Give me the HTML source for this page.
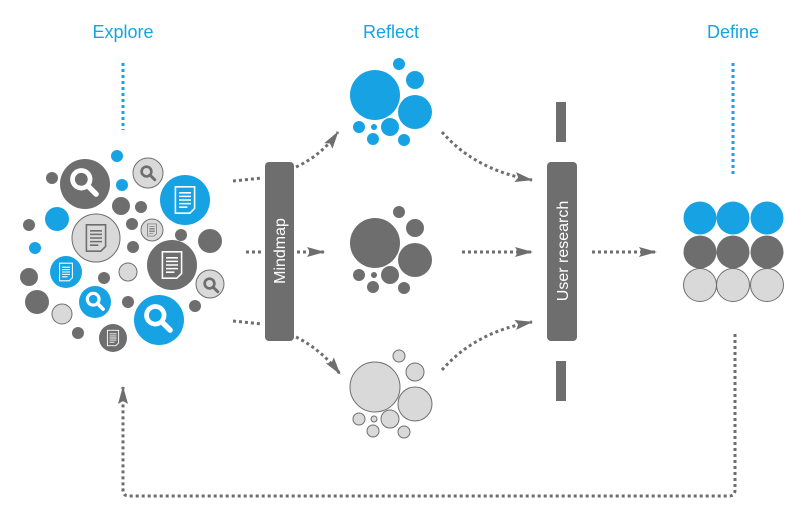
<!DOCTYPE html>
<html><head><meta charset="utf-8"><style>
html,body{margin:0;padding:0;background:#fff;}
svg{display:block;font-family:"Liberation Sans",sans-serif;}
</style></head><body>
<svg width="800" height="519" viewBox="0 0 800 519" xmlns="http://www.w3.org/2000/svg">
<defs>
<marker id="ah2" markerWidth="18" markerHeight="10" refX="17" refY="5" orient="auto" markerUnits="userSpaceOnUse" viewBox="0 0 18 10">
<polygon points="0,0 18,5 0,10 3,5" fill="#6e6e6e"/></marker>
<g id="srch"><circle cx="-2" cy="-2" r="6.5" fill="none" stroke="#fff" stroke-width="3.5"/><line x1="3" y1="3" x2="9" y2="9" stroke="#fff" stroke-width="4" stroke-linecap="round"/></g>
<g id="srchd"><circle cx="-2" cy="-2" r="6.5" fill="none" stroke="#6e6e6e" stroke-width="3.5"/><line x1="3" y1="3" x2="9" y2="9" stroke="#6e6e6e" stroke-width="4" stroke-linecap="round"/></g>
<g id="doc"><path d="M-8,-11 H8 V7 L4,11 H-8 Z" fill="none" stroke="#fff" stroke-width="1.3"/><path d="M-5,-6H5M-5,-3H5M-5,0H5M-5,3H5M-5,6H2" stroke="#fff" stroke-width="1.3"/></g>
<g id="docd"><path d="M-8,-11 H8 V7 L4,11 H-8 Z" fill="none" stroke="#6e6e6e" stroke-width="1.3"/><path d="M-5,-6H5M-5,-3H5M-5,0H5M-5,3H5M-5,6H2" stroke="#6e6e6e" stroke-width="1.3"/></g>
</defs>

<g fill="#17a3e3" font-size="18" text-anchor="middle">
<text x="123" y="38">Explore</text><text x="391" y="38">Reflect</text><text x="733" y="38">Define</text>
</g>
<g stroke="#17a3e3" stroke-width="3" stroke-dasharray="3 3" fill="none">
<line x1="123" y1="63" x2="123" y2="130"/><line x1="733" y1="63" x2="733" y2="174"/>
</g>

<g>
<circle cx="117" cy="156" r="6" fill="#17a3e3"/>
<circle cx="85" cy="184" r="25" fill="#6e6e6e"/><g transform="translate(84,182) scale(1.35)"><use href="#srch"/></g>
<circle cx="148" cy="173" r="15" fill="#d9d9d9" stroke="#6e6e6e" stroke-width="1"/><g transform="translate(148,173) scale(0.75)"><use href="#srchd"/></g>
<circle cx="52" cy="178" r="6" fill="#6e6e6e"/>
<circle cx="122" cy="185" r="6" fill="#17a3e3"/>
<circle cx="185" cy="200" r="25" fill="#17a3e3"/><g transform="translate(185,200) scale(1.2)"><use href="#doc"/></g>
<circle cx="121" cy="206" r="9" fill="#6e6e6e"/>
<circle cx="141" cy="207" r="6" fill="#6e6e6e"/>
<circle cx="57" cy="219" r="12" fill="#17a3e3"/>
<circle cx="29" cy="225" r="6" fill="#6e6e6e"/>
<circle cx="96" cy="238" r="24" fill="#d9d9d9" stroke="#6e6e6e" stroke-width="1"/><g transform="translate(96,238) scale(1.2)"><use href="#docd"/></g>
<circle cx="132" cy="224" r="6" fill="#6e6e6e"/>
<circle cx="152" cy="230" r="11" fill="#d9d9d9" stroke="#6e6e6e" stroke-width="1"/><g transform="translate(152,230) scale(0.55)"><use href="#docd"/></g>
<circle cx="181" cy="235" r="6" fill="#6e6e6e"/>
<circle cx="210" cy="241" r="12" fill="#6e6e6e"/>
<circle cx="35" cy="248" r="6" fill="#17a3e3"/>
<circle cx="133" cy="247" r="6" fill="#6e6e6e"/>
<circle cx="172" cy="265" r="25" fill="#6e6e6e"/><g transform="translate(172,265) scale(1.2)"><use href="#doc"/></g>
<circle cx="66" cy="272" r="16" fill="#17a3e3"/><g transform="translate(66,272) scale(0.8)"><use href="#doc"/></g>
<circle cx="128" cy="272" r="9" fill="#d9d9d9" stroke="#6e6e6e" stroke-width="1"/>
<circle cx="210" cy="284" r="14" fill="#d9d9d9" stroke="#6e6e6e" stroke-width="1"/><g transform="translate(211,285) scale(0.75)"><use href="#srchd"/></g>
<circle cx="29" cy="277" r="9" fill="#6e6e6e"/>
<circle cx="104" cy="278" r="6" fill="#6e6e6e"/>
<circle cx="37" cy="302" r="12" fill="#6e6e6e"/>
<circle cx="95" cy="302" r="16" fill="#17a3e3"/><g transform="translate(95,301) scale(0.9)"><use href="#srch"/></g>
<circle cx="128" cy="302" r="6" fill="#6e6e6e"/>
<circle cx="62" cy="314" r="10" fill="#d9d9d9" stroke="#6e6e6e" stroke-width="1"/>
<circle cx="159" cy="320" r="25" fill="#17a3e3"/><g transform="translate(158,318) scale(1.35)"><use href="#srch"/></g>
<circle cx="195" cy="306" r="6" fill="#6e6e6e"/>
<circle cx="78" cy="333" r="6" fill="#6e6e6e"/>
<circle cx="113" cy="338" r="14" fill="#6e6e6e"/><g transform="translate(113,338) scale(0.7)"><use href="#doc"/></g>
</g>

<g fill="#17a3e3">
<circle cx="375" cy="95" r="25"/><circle cx="399" cy="64" r="6"/><circle cx="415" cy="80" r="9"/><circle cx="415" cy="112" r="17"/>
<circle cx="359" cy="127" r="6"/><circle cx="374" cy="127" r="3"/><circle cx="390" cy="127" r="9"/><circle cx="373" cy="139" r="6"/><circle cx="404" cy="140" r="6"/>
</g>
<g fill="#6e6e6e" transform="translate(0,148)">
<circle cx="375" cy="95" r="25"/><circle cx="399" cy="64" r="6"/><circle cx="415" cy="80" r="9"/><circle cx="415" cy="112" r="17"/>
<circle cx="359" cy="127" r="6"/><circle cx="374" cy="127" r="3"/><circle cx="390" cy="127" r="9"/><circle cx="373" cy="139" r="6"/><circle cx="404" cy="140" r="6"/>
</g>
<g fill="#d9d9d9" stroke="#6e6e6e" stroke-width="1" transform="translate(0,292)">
<circle cx="375" cy="95" r="25"/><circle cx="399" cy="64" r="6"/><circle cx="415" cy="80" r="9"/><circle cx="415" cy="112" r="17"/>
<circle cx="359" cy="127" r="6"/><circle cx="374" cy="127" r="3"/><circle cx="390" cy="127" r="9"/><circle cx="373" cy="139" r="6"/><circle cx="404" cy="140" r="6"/>
</g>

<rect x="265" y="162" width="29" height="179" rx="4" fill="#6e6e6e"/>
<text transform="translate(285,251) rotate(-90)" text-anchor="middle" fill="#fff" font-size="16">Mindmap</text>
<rect x="547" y="162" width="30" height="179" rx="4" fill="#6e6e6e"/>
<text transform="translate(568,251) rotate(-90)" text-anchor="middle" fill="#fff" font-size="16">User research</text>
<rect x="556" y="102" width="10" height="40" fill="#6e6e6e"/>
<rect x="556" y="361" width="10" height="40" fill="#6e6e6e"/>

<g fill="#17a3e3"><circle cx="700" cy="218" r="16.5"/><circle cx="733" cy="218" r="16.5"/><circle cx="767" cy="218" r="16.5"/></g>
<g fill="#6e6e6e"><circle cx="700" cy="252" r="16.5"/><circle cx="733" cy="252" r="16.5"/><circle cx="767" cy="252" r="16.5"/></g>
<g fill="#d9d9d9" stroke="#6e6e6e" stroke-width="1"><circle cx="700" cy="285" r="16.5"/><circle cx="733" cy="285" r="16.5"/><circle cx="767" cy="285" r="16.5"/></g>

<g stroke="#6e6e6e" stroke-width="3" stroke-dasharray="3 3" fill="none">
<line x1="233" y1="181" x2="262" y2="178"/>
<line x1="246" y1="252" x2="262" y2="252"/>
<line x1="233" y1="321" x2="262" y2="324"/>
<path d="M296,167 Q322,155 338,132" marker-end="url(#ah2)"/>
<line x1="297" y1="252" x2="324" y2="252" marker-end="url(#ah2)"/>
<path d="M296,337 Q322,350 340,374" marker-end="url(#ah2)"/>
<path d="M442,132 Q475,170 532,180" marker-end="url(#ah2)"/>
<line x1="462" y1="252" x2="532" y2="252" marker-end="url(#ah2)"/>
<path d="M442,370 Q475,332 532,322" marker-end="url(#ah2)"/>
<line x1="592" y1="252" x2="656" y2="252" marker-end="url(#ah2)"/>
<path d="M735,334 V490 Q735,496 729,496 H129 Q123,496 123,490 V387" marker-end="url(#ah2)"/>
</g>
</svg>
</body></html>
